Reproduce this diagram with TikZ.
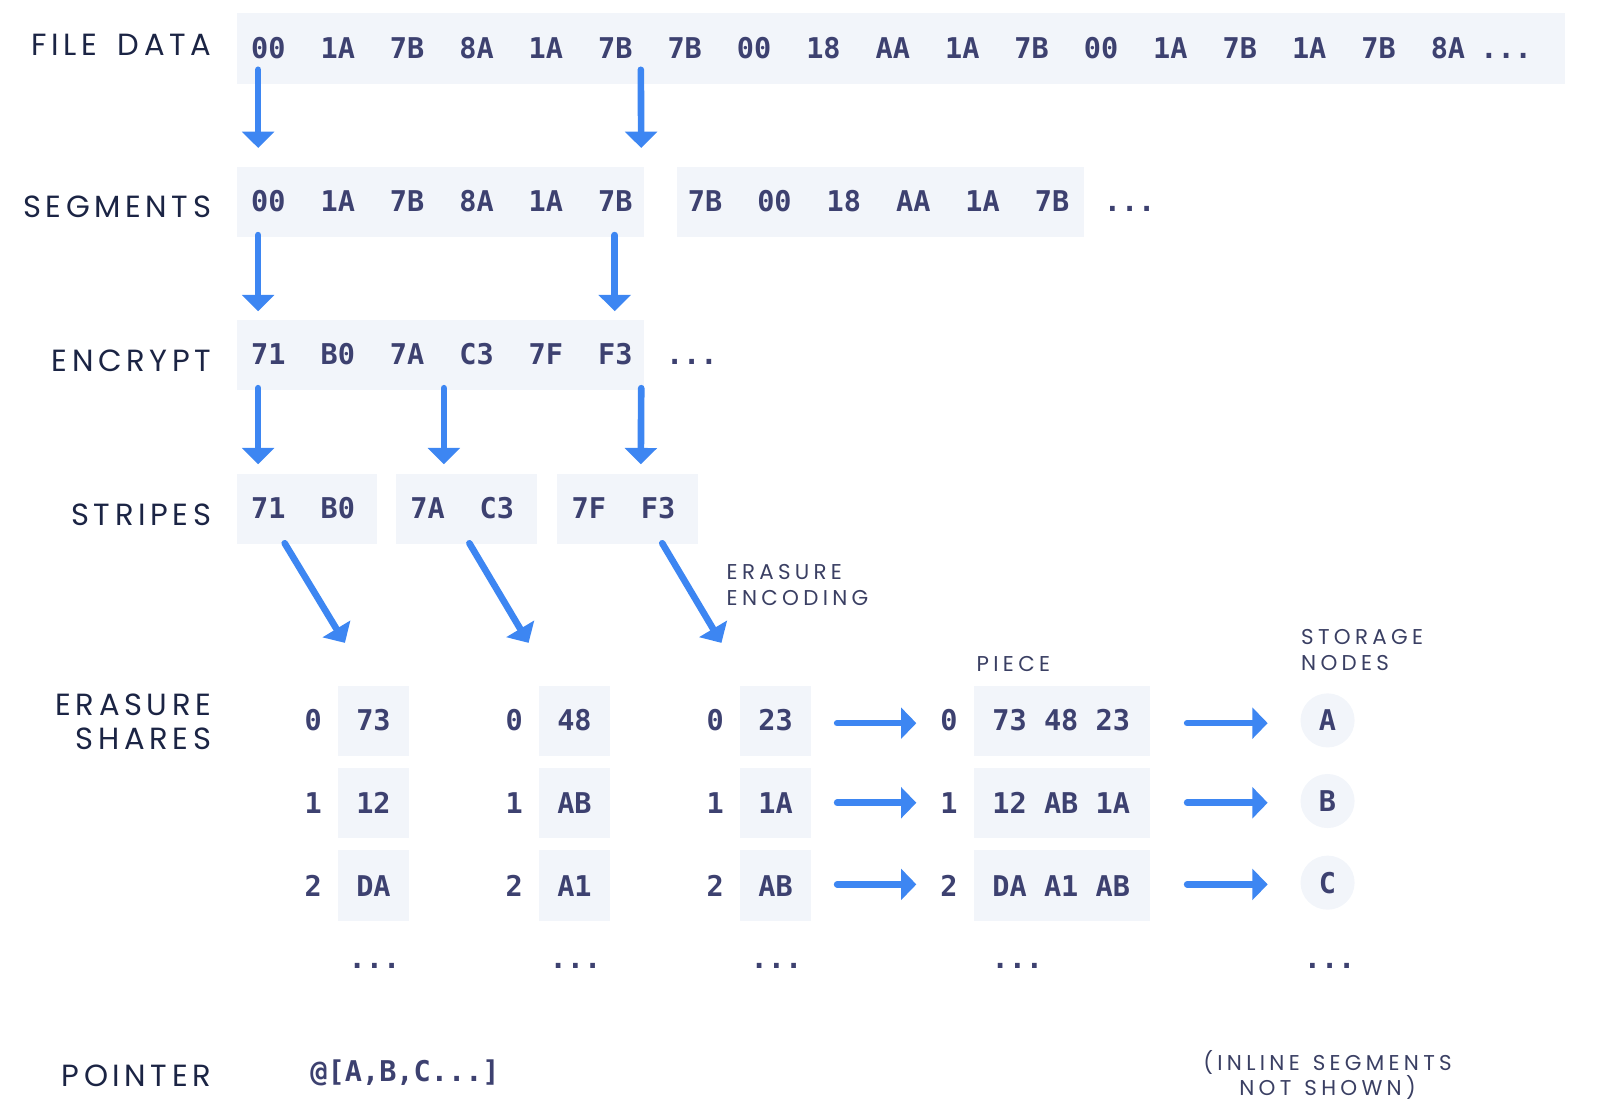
\documentclass[tikz,border=0pt]{standalone}
\usepackage{fontspec}
\usetikzlibrary{arrows.meta,calc}
\newfontfamily\labf[LetterSpace=15,WordSpace=1.6]{Poppins}
\newfontfamily\smlf[LetterSpace=20,WordSpace=1.3]{Poppins}
\newfontfamily\hexf{DejaVu Sans Mono}
\definecolor{boxc}{HTML}{F2F5FA}
\definecolor{arrc}{HTML}{3D86F2}
\definecolor{hexc}{HTML}{3D4170}
\definecolor{labc}{HTML}{1B2444}
\definecolor{smlc}{HTML}{3A3F63}
\begin{document}
\begin{tikzpicture}[x=1pt,y=-1pt,
 box/.style={fill=boxc, draw=none, inner sep=0pt, anchor=north west},
 hex/.style={font=\hexf\bfseries\fontsize{28}{30}\selectfont, text=hexc, inner sep=0pt, text height=20.4pt, text depth=0pt},
 lab/.style={font=\labf\fontsize{30}{33}\selectfont, text=labc, inner sep=0pt, anchor=east, text height=21pt, text depth=0pt},
 lab2/.style={font=\labf\fontsize{30}{33}\selectfont, text=labc, inner sep=0pt, anchor=north east, align=right},
 sml/.style={font=\smlf\fontsize{21}{25}\selectfont, text=smlc, inner sep=0pt, anchor=north west, align=left},
 arr/.style={draw=arrc, line width=6.5pt, line cap=round, -{Triangle[width=31pt,length=16pt]}},
 harr/.style={draw=arrc, line width=6.5pt, line cap=round, -{Triangle[width=30pt,length=15pt]}},
 circ/.style={circle, fill=boxc, minimum size=53pt, inner sep=0pt, font=\hexf\bfseries\fontsize{28}{30}\selectfont, text=hexc}
]
\useasboundingbox (0,0) rectangle (1568,1096.6);

% ---- boxes ----
\node[box, minimum width=1301pt, minimum height=69pt] (fdbox) at (232,13) {};
\node[box, minimum width=399pt, minimum height=69pt] (segA) at (232,163) {};
\node[box, minimum width=399pt, minimum height=69pt] (segB) at (663,163) {};
\node[box, minimum width=399pt, minimum height=69pt] (encA) at (232,313) {};
\node[box, minimum width=137pt, minimum height=69pt] (stA) at (232,464) {};
\node[box, minimum width=138pt, minimum height=69pt] (stB) at (388,464) {};
\node[box, minimum width=138pt, minimum height=69pt] (stC) at (546,464) {};
\foreach \c/\x in {1/331,2/528,3/725}
  \foreach \r/\y in {0/672,1/752,2/833}
    \node[box, minimum width=70pt, minimum height=69pt] (s\c\r) at (\x,\y) {};
\foreach \r/\y in {0/672,1/752,2/833}
  \node[box, minimum width=173pt, minimum height=69pt] (p\r) at (954,\y) {};

% ---- row labels ----
\node[lab] (lfd) at (207,44) {FILE DATA};
\node[lab] (lseg) at (207,203) {SEGMENTS};
\node[lab] (lenc) at (207,354) {ENCRYPT};
\node[lab] (lst) at (207,504) {STRIPES};
\node[lab2] (les) at (207,680) {ERASURE\\SHARES};
\node[lab] (lptr) at (207,1054) {POINTER};

% ---- file data ----
\foreach \t [count=\i from 0] in {00,1A,7B,8A,1A,7B,7B,00,18,AA,1A,7B,00,1A,7B,1A,7B,8A}
  \node[hex] (fd\i) at (263+68*\i,47) {\t};
\node[hex] (fddots) at (1476,47) {...};

% ---- segments ----
\foreach \t [count=\i from 0] in {00,1A,7B,8A,1A,7B}
  \node[hex] (sa\i) at (263+68*\i,197) {\t};
\foreach \t [count=\i from 0] in {7B,00,18,AA,1A,7B}
  \node[hex] (sb\i) at (691+68*\i,197) {\t};
\node[hex] (segdots) at (1107,197) {...};

% ---- encrypt ----
\foreach \t [count=\i from 0] in {71,B0,7A,C3,7F,F3}
  \node[hex] (en\i) at (263+68*\i,347) {\t};
\node[hex] (encdots) at (678,347) {...};

% ---- stripes ----
\node[hex] (st1) at (263,498) {71};
\node[hex] (st2) at (331,498) {B0};
\node[hex] (st3) at (419,498) {7A};
\node[hex] (st4) at (487,498) {C3};
\node[hex] (st5) at (577,498) {7F};
\node[hex] (st6) at (645,498) {F3};

% ---- erasure shares ----
\foreach \r/\y in {0/706,1/787,2/868}{
  \node[hex] (ia\r) at (307,\y) {\r};
  \node[hex] (ib\r) at (504,\y) {\r};
  \node[hex] (ic\r) at (701,\y) {\r};
  \node[hex] (ip\r) at (930,\y) {\r};
}
\node[hex] (v10) at (366,706) {73};
\node[hex] (v11) at (366,787) {12};
\node[hex] (v12) at (366,868) {DA};
\node[hex] (v20) at (563,706) {48};
\node[hex] (v21) at (563,787) {AB};
\node[hex] (v22) at (563,868) {A1};
\node[hex] (v30) at (760,706) {23};
\node[hex] (v31) at (760,787) {1A};
\node[hex] (v32) at (760,868) {AB};
\node[hex] (pv0) at (1040,706) {73 48 23};
\node[hex] (pv1) at (1040,787) {12 AB 1A};
\node[hex] (pv2) at (1040,868) {DA A1 AB};

\node[circ] (n0) at (1301,706) {A};
\node[circ] (n1) at (1301,785) {B};
\node[circ] (n2) at (1301,865) {C};

\node[hex] (d1) at (367,939) {...};
\node[hex] (d2) at (564,939) {...};
\node[hex] (d3) at (761,939) {...};
\node[hex] (d4) at (997,939) {...};
\node[hex] (d5) at (1303,939) {...};

\node[hex] (ptr) at (397,1050) {@[A,B,C...]};

% ---- small labels ----
\node[sml] (lee) at (712,553) {ERASURE\\ENCODING};
\node[sml] (lpiece) at (957,643) {PIECE};
\node[sml] (lsn) at (1275,617) {STORAGE\\NODES};
\node[sml, anchor=north, align=center] (linl) at (1301,1029) {(INLINE SEGMENTS\\NOT SHOWN)};

% ---- arrows ----
\draw[arr] ($(fdbox.south west)+(21,-14)$) -- ($(segA.north west)+(21,-18)$);
\draw[arr] ($(fdbox.south west)+(396,-14)$) -- ($(segA.north east)+(-3,-18)$);
\draw[arr] ($(segA.south west)+(21,-2)$) -- ($(encA.north west)+(21,-8)$);
\draw[arr] ($(segA.south east)+(-29,-2)$) -- ($(encA.north east)+(-29,-8)$);
\draw[arr] ($(encA.south west)+(21,-2)$) -- ($(stA.north west)+(21,-9)$);
\draw[arr] ($(encA.south west)+(203,-2)$) -- ($(stB.north west)+(47,-9)$);
\draw[arr] ($(encA.south east)+(-3,-2)$) -- ($(stC.north west)+(82,-9)$);

\draw[arr] ($(stA.south west)+(47,-1)$) -- ($(s10.north west)+(7,-42)$);
\draw[arr] ($(stB.south west)+(72,-1)$) -- ($(s20.north west)+(-10,-42)$);
\draw[arr] ($(stC.south west)+(103,-1)$) -- ($(s30.north west)+(-18,-42)$);

\foreach \r/\dy in {0/2,1/0,2/-1}{
  \draw[harr] ($(s3\r.east)+(25,\dy)$) -- ($(p\r.west)+(-56,\dy)$);
  \draw[harr] ($(p\r.east)+(36,\dy)$) -- ($(n\r.west |- p\r.east)+(-32,\dy)$);
}
\end{tikzpicture}
\end{document}
